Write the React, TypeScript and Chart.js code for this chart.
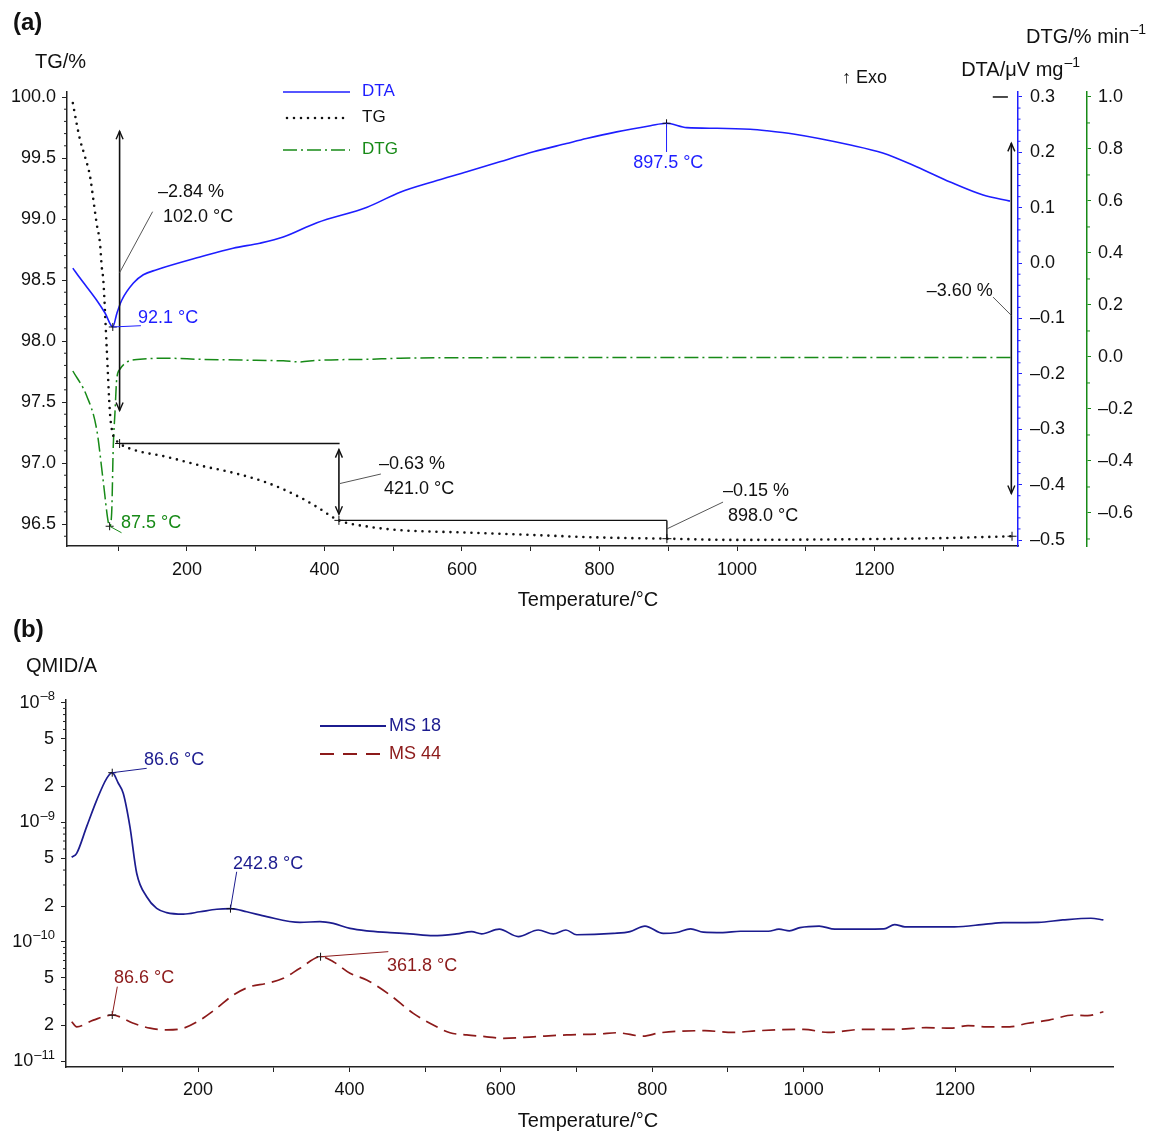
import { useEffect, useRef } from 'react';
import { Chart, registerables } from 'chart.js';

Chart.register(...registerables);

const FONT = '"Liberation Sans", Arial, Helvetica, sans-serif';
const EN = '\u2013';
const BLUE = '#1e1eff';
const GREEN = '#178a17';
const NAVY = '#1c1c8f';
const DARKRED = '#8c1a1a';
const INK = '#111111';
const AXIS = '#222222';
const LEADER = '#555555';

// ---------- shared temperature axis ----------
const tempMin = 25.5;
const tempMax = 1408.7;
const tempTicks = [100, 200, 300, 400, 500, 600, 700, 800, 900, 1000, 1100, 1200, 1300];
const tempLabels = [200, 400, 600, 800, 1000, 1200];

// ---------- panel (a): TG / DTA / DTG ----------
const tgTemp = [34, 39.6, 44.4, 51.7, 59, 63.8, 68.7, 73.5, 76, 78.3, 83.2, 88, 92, 95.3, 102, 121.5, 171, 219, 267, 316, 364, 389, 421, 462, 510, 607, 703, 800, 898, 994, 1160, 1300, 1400];
const tgValues = [99.95, 99.78, 99.65, 99.51, 99.35, 99.16, 98.96, 98.8, 98.61, 98.5, 97.95, 97.41, 97.24, 97.2, 97.16, 97.11, 97.05, 96.98, 96.92, 96.84, 96.72, 96.64, 96.53, 96.48, 96.45, 96.43, 96.41, 96.39, 96.38, 96.37, 96.375, 96.385, 96.4];

const dtaTemp = [34, 44.4, 68.7, 80.8, 92.1, 98.2, 105.1, 122.1, 136.5, 156, 219, 267, 306, 340, 389, 462, 510, 558, 607, 655, 704, 752, 781, 825, 874, 897.5, 927, 971, 1019, 1043, 1082, 1165, 1212, 1262, 1310, 1358, 1397];
const dtaValues = [-0.009, -0.027, -0.067, -0.09, -0.115, -0.09, -0.067, -0.036, -0.021, -0.012, 0.011, 0.027, 0.036, 0.047, 0.073, 0.101, 0.128, 0.147, 0.165, 0.183, 0.201, 0.216, 0.225, 0.237, 0.248, 0.2525, 0.2446, 0.2435, 0.2417, 0.2391, 0.2332, 0.2133, 0.1989, 0.1736, 0.1465, 0.123, 0.112];

const dtgTemp = [34, 54.2, 68.7, 77.9, 85.6, 87.5, 90.5, 92.8, 95.3, 97.8, 102.6, 112.3, 131.7, 171, 219, 280, 340, 364, 389, 462, 510, 600, 800, 1000, 1200, 1400];
const dtgValues = [-0.054, -0.15, -0.279, -0.471, -0.637, -0.651, -0.598, -0.343, -0.213, -0.086, -0.047, -0.02, -0.009, -0.005, -0.009, -0.012, -0.015, -0.019, -0.013, -0.009, -0.005, -0.003, -0.002, -0.002, -0.002, -0.002];

const tgTicks = [96.5, 97.0, 97.5, 98.0, 98.5, 99.0, 99.5, 100.0];
const dtaTicks = [-0.5, -0.4, -0.3, -0.2, -0.1, 0, 0.1, 0.2, 0.3];
const dtgTicks = [-0.6, -0.4, -0.2, 0, 0.2, 0.4, 0.6, 0.8, 1.0];

// mass-loss steps
const stepTemps = [102.0, 421.0, 898.0];
const stepLoss = ['2.84', '0.63', '0.15'];
const stepTG = [97.16, 96.53, 96.38];
const totalLoss = '3.60';
const endTemp = 1400;
const endTG = 96.4;
const dtaMin = [92.1, -0.1153];
const dtaPeak = [897.5, 0.2525];
const dtgMin = [87.5, -0.651];

// ---------- panel (b): MS ----------
const ms18Temp = [33.0, 39.6, 52.8, 66.1, 79.3, 86.6, 94.6, 101.2, 110.0, 118.9, 132.1, 145.3, 158.5, 180.5, 202.5, 224.6, 242.8, 264.2, 290.6, 334.6, 361.0, 378.6, 400.7, 422.7, 453.5, 479.9, 510.7, 541.6, 561.4, 574.6, 597.9, 623.0, 649.4, 669.2, 686.0, 700.1, 748.5, 770.5, 790.4, 814.5, 832.2, 850.7, 867.4, 893.2, 916.4, 953.4, 967.4, 981.2, 995.1, 1020.6, 1041.3, 1106.1, 1120.2, 1133.8, 1199.1, 1240.8, 1263.9, 1310.3, 1342.5, 1379.5, 1396.0];
const ms18Values = [5.12e-10, 5.52e-10, 9.23e-10, 1.54e-9, 2.34e-9, 2.61e-9, 2.13e-9, 1.75e-9, 9.2e-10, 3.76e-10, 2.39e-10, 1.91e-10, 1.76e-10, 1.71e-10, 1.79e-10, 1.88e-10, 1.9e-10, 1.79e-10, 1.63e-10, 1.46e-10, 1.48e-10, 1.43e-10, 1.3e-10, 1.24e-10, 1.2e-10, 1.17e-10, 1.13e-10, 1.17e-10, 1.22e-10, 1.17e-10, 1.28e-10, 1.11e-10, 1.26e-10, 1.17e-10, 1.26e-10, 1.15e-10, 1.18e-10, 1.22e-10, 1.36e-10, 1.18e-10, 1.2e-10, 1.29e-10, 1.21e-10, 1.2e-10, 1.23e-10, 1.23e-10, 1.28e-10, 1.24e-10, 1.32e-10, 1.36e-10, 1.28e-10, 1.29e-10, 1.4e-10, 1.34e-10, 1.34e-10, 1.41e-10, 1.45e-10, 1.46e-10, 1.53e-10, 1.58e-10, 1.53e-10];

const ms44Temp = [33.0, 39.6, 61.6, 86.6, 114.4, 136.5, 158.5, 180.5, 202.5, 224.6, 246.5, 268.6, 290.6, 312.6, 334.6, 361.8, 378.6, 400.7, 422.7, 453.5, 484.3, 510.7, 532.8, 554.8, 581.3, 603.2, 642.8, 686.9, 730.9, 753.0, 788.1, 810.2, 869.6, 906.6, 939.6, 999.8, 1032.1, 1078.4, 1124.7, 1161.7, 1194.7, 1217.2, 1241.0, 1272.2, 1296.3, 1324.0, 1356.7, 1375.2, 1396.0];
const ms44Values = [2.15e-11, 1.95e-11, 2.22e-11, 2.45e-11, 2.09e-11, 1.9e-11, 1.84e-11, 1.9e-11, 2.22e-11, 2.79e-11, 3.6e-11, 4.23e-11, 4.51e-11, 4.97e-11, 6.02e-11, 7.53e-11, 6.84e-11, 5.47e-11, 4.81e-11, 3.6e-11, 2.53e-11, 2.02e-11, 1.74e-11, 1.67e-11, 1.61e-11, 1.56e-11, 1.61e-11, 1.67e-11, 1.7e-11, 1.74e-11, 1.63e-11, 1.74e-11, 1.81e-11, 1.75e-11, 1.81e-11, 1.86e-11, 1.75e-11, 1.86e-11, 1.86e-11, 1.92e-11, 1.9e-11, 2.0e-11, 1.95e-11, 1.95e-11, 2.09e-11, 2.22e-11, 2.45e-11, 2.42e-11, 2.61e-11];

const qmidTicks = [1e-11, 2e-11, 5e-11, 1e-10, 2e-10, 5e-10, 1e-9, 2e-9, 5e-9, 1e-8];
const qmidDecades = [-11, -10, -9, -8];
const ms18Peaks = [[86.6, 2.61e-9], [242.8, 1.9e-10]];
const ms44Peaks = [[86.6, 2.45e-11], [361.8, 7.53e-11]];

// ---------- helpers ----------
const zip = (xs: number[], ys: number[]) => xs.map((x, i) => ({ x, y: ys[i] }));
const fmt1 = (v: number) => (v < -1e-9 ? EN : '') + Math.abs(v).toFixed(1);

function text(ctx: any, s: string, x: number, y: number, color = INK, align = 'left', size = 18, bold = false) {
  ctx.save();
  ctx.font = `${bold ? 'bold ' : ''}${size}px ${FONT}`;
  ctx.fillStyle = color;
  ctx.textAlign = align;
  ctx.textBaseline = 'middle';
  ctx.fillText(s, x, y);
  ctx.restore();
}

function supLabel(ctx: any, base: string, sup: string, x: number, y: number, align: string, size: number, supSize: number, color = INK) {
  ctx.save();
  ctx.font = `${size}px ${FONT}`;
  const wb = ctx.measureText(base).width;
  ctx.font = `${supSize}px ${FONT}`;
  const ws = ctx.measureText(sup).width;
  const left = align === 'right' ? x - wb - ws - 1 : x;
  ctx.fillStyle = color;
  ctx.textBaseline = 'middle';
  ctx.textAlign = 'left';
  ctx.font = `${size}px ${FONT}`;
  ctx.fillText(base, left, y);
  ctx.font = `${supSize}px ${FONT}`;
  ctx.fillText(sup, left + wb + 1, y - size * 0.36);
  ctx.restore();
}

function seg(ctx: any, x1: number, y1: number, x2: number, y2: number, color = INK, width = 1, dash: number[] = []) {
  ctx.save();
  ctx.strokeStyle = color;
  ctx.lineWidth = width;
  ctx.setLineDash(dash);
  ctx.beginPath();
  ctx.moveTo(x1, y1);
  ctx.lineTo(x2, y2);
  ctx.stroke();
  ctx.restore();
}

function arrowHead(ctx: any, x: number, y: number, dir: number) {
  // dir = -1: pointing up, +1: pointing down
  ctx.save();
  ctx.strokeStyle = INK;
  ctx.lineWidth = 1.4;
  ctx.beginPath();
  ctx.moveTo(x - 3.5, y - dir * 8);
  ctx.lineTo(x, y);
  ctx.lineTo(x + 3.5, y - dir * 8);
  ctx.stroke();
  ctx.restore();
}

function dblArrow(ctx: any, x: number, yTop: number, yBot: number) {
  seg(ctx, x, yTop, x, yBot, INK, 1.6);
  arrowHead(ctx, x, yTop, -1);
  arrowHead(ctx, x, yBot, 1);
}

function cross(ctx: any, x: number, y: number, color = INK, s = 4.5) {
  seg(ctx, x - s, y, x + s, y, color, 1);
  seg(ctx, x, y - s, x, y + s, color, 1);
}

function minorTicks(ctx: any, scale: any, values: number[], len: number, color: string, side: string) {
  for (const v of values) {
    const p = scale.getPixelForValue(v);
    if (side === 'left') seg(ctx, scale.right, p, scale.right - len, p, color, 1);
    else if (side === 'right') seg(ctx, scale.left, p, scale.left + len, p, color, 1);
    else seg(ctx, p, scale.top, p, scale.top + len, color, 1);
  }
}

function range(from: number, to: number, step: number, skipEvery: number) {
  const out: number[] = [];
  const n = Math.round((to - from) / step);
  for (let i = 0; i <= n; i++) {
    if (skipEvery > 0 && Math.round(from / step + i) % skipEvery === 0) continue;
    out.push(+(from + i * step).toFixed(4));
  }
  return out;
}

const tickFont = { family: FONT, size: 18 };

function xScale(height: number, padding: number) {
  return {
    type: 'linear',
    position: 'bottom',
    min: tempMin,
    max: tempMax,
    afterBuildTicks: (s: any) => { s.ticks = tempTicks.map((value) => ({ value })); },
    afterFit: (s: any) => { s.height = height; },
    ticks: {
      autoSkip: false,
      maxRotation: 0,
      padding,
      color: INK,
      font: tickFont,
      callback: (v: number) => (tempLabels.includes(v) ? String(v) : ''),
    },
    grid: { drawOnChartArea: false, drawTicks: true, tickLength: 5, color: AXIS },
    border: { display: true, color: AXIS, width: 1.5 },
  };
}

// ---------- panel (a) config ----------
function configA(): any {
  const plugin = {
    id: 'panelA',
    afterDraw(chart: any) {
      const { ctx, scales } = chart;
      const X = (t: number) => scales.x.getPixelForValue(t);
      const Y = (v: number) => scales.yTG.getPixelForValue(v);
      const YA = (v: number) => scales.yDTA.getPixelForValue(v);
      const YG = (v: number) => scales.yDTG.getPixelForValue(v);

      minorTicks(ctx, scales.yTG, range(96.4, 100.0, 0.1, 5), 3, AXIS, 'left');
      minorTicks(ctx, scales.yDTA, range(-0.5, 0.3, 0.02, 5), 2.5, BLUE, 'right');
      minorTicks(ctx, scales.yDTG, range(-0.7, 1.0, 0.1, 2), 3, GREEN, 'right');

      // titles
      text(ctx, '(a)', 13, 23, INK, 'left', 24, true);
      text(ctx, 'TG/%', 35, 62, INK, 'left', 20);
      supLabel(ctx, 'DTG/% min', EN + '1', 1146, 37, 'right', 20, 14);
      supLabel(ctx, 'DTA/\u03bcV mg', EN + '1', 1080, 70, 'right', 20, 14);
      text(ctx, '\u2191 Exo', 842, 78, INK, 'left', 18);
      seg(ctx, X(1372), YA(0.3), X(1394), YA(0.3), INK, 1.5);
      text(ctx, 'Temperature/\u00b0C', 588, 600, INK, 'center', 20);

      // legend
      seg(ctx, 283, 92, 350, 92, BLUE, 1.6);
      text(ctx, 'DTA', 362, 91, BLUE, 'left', 17);
      ctx.save();
      ctx.strokeStyle = INK; ctx.lineWidth = 2.6; ctx.lineCap = 'round'; ctx.setLineDash([0, 7]);
      ctx.beginPath(); ctx.moveTo(287, 118); ctx.lineTo(350, 118); ctx.stroke();
      ctx.restore();
      text(ctx, 'TG', 362, 117, INK, 'left', 17);
      seg(ctx, 283, 150, 350, 150, GREEN, 1.5, [14, 4, 2, 4]);
      text(ctx, 'DTG', 362, 149, GREEN, 'left', 17);

      // step 1
      dblArrow(ctx, X(stepTemps[0]), Y(99.72), Y(97.43));
      seg(ctx, X(stepTemps[0]), Y(98.56), X(150), Y(99.06), LEADER, 1);
      text(ctx, EN + stepLoss[0] + ' %', X(157.9), Y(99.22));
      text(ctx, stepTemps[0].toFixed(1) + ' \u00b0C', X(165.1), Y(99.016));
      cross(ctx, X(stepTemps[0]), Y(stepTG[0]));
      seg(ctx, X(stepTemps[0]), Y(stepTG[0]), X(422), Y(stepTG[0]), INK, 1.4);

      // step 2
      dblArrow(ctx, X(stepTemps[1]), Y(97.11), Y(96.58));
      seg(ctx, X(stepTemps[1]), Y(96.83), X(482), Y(96.91), LEADER, 1);
      text(ctx, EN + stepLoss[1] + ' %', X(479.3), Y(96.99));
      text(ctx, stepTemps[1].toFixed(1) + ' \u00b0C', X(486.6), Y(96.787));
      cross(ctx, X(stepTemps[1]), Y(stepTG[1]));
      seg(ctx, X(stepTemps[1]), Y(stepTG[1]), X(stepTemps[2]), Y(stepTG[1]), INK, 1.4);

      // step 3
      seg(ctx, X(stepTemps[2]), Y(stepTG[1]), X(stepTemps[2]), Y(stepTG[2]), INK, 1.4);
      cross(ctx, X(stepTemps[2]), Y(stepTG[2]));
      seg(ctx, X(stepTemps[2]), Y(96.46), X(979.7), Y(96.68), LEADER, 1);
      text(ctx, EN + stepLoss[2] + ' %', X(979.7), Y(96.77));
      text(ctx, stepTemps[2].toFixed(1) + ' \u00b0C', X(987), Y(96.566));

      // total
      dblArrow(ctx, X(1399), Y(99.62), Y(96.75));
      seg(ctx, X(1399), Y(98.21), X(1372.4), Y(98.36), LEADER, 1);
      text(ctx, EN + totalLoss + ' %', X(1372), Y(98.41), INK, 'right');
      cross(ctx, X(endTemp), Y(endTG));

      // DTA minimum
      cross(ctx, X(dtaMin[0]), YA(dtaMin[1]), INK, 4);
      seg(ctx, X(dtaMin[0]), YA(dtaMin[1]), X(133), YA(-0.113), BLUE, 1);
      text(ctx, dtaMin[0].toFixed(1) + ' \u00b0C', X(128.8), YA(-0.099), BLUE);

      // DTG minimum
      cross(ctx, X(dtgMin[0]), YG(dtgMin[1]), INK, 4);
      seg(ctx, X(dtgMin[0]), YG(dtgMin[1]), X(104.8), YG(-0.676), GREEN, 1);
      text(ctx, dtgMin[0].toFixed(1) + ' \u00b0C', X(104), YG(-0.639), GREEN);

      // DTA peak
      cross(ctx, X(dtaPeak[0]), YA(dtaPeak[1]), INK, 4);
      seg(ctx, X(dtaPeak[0]), YA(dtaPeak[1]), X(dtaPeak[0]), YA(0.2007), BLUE, 1);
      text(ctx, dtaPeak[0].toFixed(1) + ' \u00b0C', X(900), YA(0.181), BLUE, 'center');
    },
  };

  return {
    type: 'line',
    data: {
      datasets: [
        { label: 'DTA', data: zip(dtaTemp, dtaValues), yAxisID: 'yDTA', borderColor: BLUE, borderWidth: 1.6, pointRadius: 0, cubicInterpolationMode: 'monotone', fill: false },
        { label: 'TG', data: zip(tgTemp, tgValues), yAxisID: 'yTG', borderColor: INK, borderWidth: 2.6, borderDash: [0, 7], borderCapStyle: 'round', pointRadius: 0, cubicInterpolationMode: 'monotone', fill: false },
        { label: 'DTG', data: zip(dtgTemp, dtgValues), yAxisID: 'yDTG', borderColor: GREEN, borderWidth: 1.5, borderDash: [14, 4, 2, 4], pointRadius: 0, cubicInterpolationMode: 'monotone', fill: false },
      ],
    },
    options: {
      responsive: false,
      maintainAspectRatio: false,
      animation: false,
      devicePixelRatio: 1,
      events: [],
      layout: { padding: { top: 92, left: 0, right: 0, bottom: 0 } },
      plugins: { legend: { display: false }, tooltip: { enabled: false } },
      scales: {
        x: xScale(69, 8),
        yTG: {
          type: 'linear', position: 'left', min: 96.32, max: 100.041,
          afterBuildTicks: (s: any) => { s.ticks = tgTicks.map((value) => ({ value })); },
          afterFit: (s: any) => { s.width = 67; },
          ticks: { padding: 6, color: INK, font: tickFont, callback: (v: number) => fmt1(v) },
          grid: { drawOnChartArea: false, tickLength: 5, color: AXIS },
          border: { display: true, color: AXIS, width: 1.5 },
        },
        yDTA: {
          type: 'linear', position: 'right', min: -0.5108, max: 0.309,
          afterBuildTicks: (s: any) => { s.ticks = dtaTicks.map((value) => ({ value })); },
          afterFit: (s: any) => { s.width = 69; },
          ticks: { padding: 8, color: INK, font: tickFont, callback: (v: number) => fmt1(v) },
          grid: { drawOnChartArea: false, tickLength: 4, color: BLUE },
          border: { display: true, color: BLUE, width: 1.5 },
        },
        yDTG: {
          type: 'linear', position: 'right', min: -0.727, max: 1.019,
          afterBuildTicks: (s: any) => { s.ticks = dtgTicks.map((value) => ({ value })); },
          afterFit: (s: any) => { s.width = 64; },
          ticks: { padding: 7, color: INK, font: tickFont, callback: (v: number) => fmt1(v) },
          grid: { drawOnChartArea: false, tickLength: 4, color: GREEN },
          border: { display: true, color: GREEN, width: 1.5 },
        },
      },
    },
    plugins: [plugin],
  };
}

// ---------- panel (b) config ----------
function configB(): any {
  const plugin = {
    id: 'panelB',
    afterDraw(chart: any) {
      const { ctx, scales } = chart;
      const X = (t: number) => scales.x.getPixelForValue(t);
      const Y = (v: number) => scales.y.getPixelForValue(v);

      const minor: number[] = [];
      for (const d of [-11, -10, -9]) for (const m of [3, 4, 6, 7, 8, 9]) minor.push(m * Math.pow(10, d));
      minorTicks(ctx, scales.y, minor, 3, AXIS, 'left');

      for (const d of qmidDecades) {
        supLabel(ctx, '10', EN + String(-d), scales.y.right - 11, Y(Math.pow(10, d)), 'right', 18, 13);
      }

      text(ctx, '(b)', 13, 15, INK, 'left', 24, true);
      text(ctx, 'QMID/A', 26, 51, INK, 'left', 20);
      text(ctx, 'Temperature/\u00b0C', 588, 506, INK, 'center', 20);

      // legend
      seg(ctx, 320, 111, 386, 111, NAVY, 1.8);
      text(ctx, 'MS 18', 389, 111, NAVY, 'left', 18);
      seg(ctx, 320, 139, 383, 139, DARKRED, 1.8, [14, 9]);
      text(ctx, 'MS 44', 389, 139, DARKRED, 'left', 18);

      // MS 18 peaks
      cross(ctx, X(ms18Peaks[0][0]), Y(ms18Peaks[0][1]), INK, 4);
      seg(ctx, X(ms18Peaks[0][0]), Y(ms18Peaks[0][1]), X(132.1), Y(2.84e-9), NAVY, 1);
      text(ctx, ms18Peaks[0][0].toFixed(1) + ' \u00b0C', X(128.5), Y(3.33e-9), NAVY);
      cross(ctx, X(ms18Peaks[1][0]), Y(ms18Peaks[1][1]), INK, 4);
      seg(ctx, X(ms18Peaks[1][0]), Y(ms18Peaks[1][1]), X(251), Y(3.87e-10), NAVY, 1);
      text(ctx, ms18Peaks[1][0].toFixed(1) + ' \u00b0C', X(246.1), Y(4.5e-10), NAVY);

      // MS 44 peaks
      cross(ctx, X(ms44Peaks[0][0]), Y(ms44Peaks[0][1]), INK, 4);
      seg(ctx, X(ms44Peaks[0][0]), Y(ms44Peaks[0][1]), X(93.3), Y(4.23e-11), DARKRED, 1);
      text(ctx, ms44Peaks[0][0].toFixed(1) + ' \u00b0C', X(88.9), Y(5.0e-11), DARKRED);
      cross(ctx, X(ms44Peaks[1][0]), Y(ms44Peaks[1][1]), INK, 4);
      seg(ctx, X(ms44Peaks[1][0]), Y(ms44Peaks[1][1]), X(451.3), Y(8.3e-11), DARKRED, 1);
      text(ctx, ms44Peaks[1][0].toFixed(1) + ' \u00b0C', X(449.5), Y(6.3e-11), DARKRED);
    },
  };

  return {
    type: 'line',
    data: {
      datasets: [
        { label: 'MS 18', data: zip(ms18Temp, ms18Values), borderColor: NAVY, borderWidth: 1.7, pointRadius: 0, cubicInterpolationMode: 'monotone', fill: false },
        { label: 'MS 44', data: zip(ms44Temp, ms44Values), borderColor: DARKRED, borderWidth: 1.7, borderDash: [13, 7], pointRadius: 0, cubicInterpolationMode: 'monotone', fill: false },
      ],
    },
    options: {
      responsive: false,
      maintainAspectRatio: false,
      animation: false,
      devicePixelRatio: 1,
      events: [],
      layout: { padding: { top: 85, left: 0, right: 38, bottom: 0 } },
      plugins: { legend: { display: false }, tooltip: { enabled: false } },
      scales: {
        x: xScale(66, 7),
        y: {
          type: 'logarithmic', position: 'left', min: Math.pow(10, -11.046), max: Math.pow(10, -7.975),
          afterBuildTicks: (s: any) => { s.ticks = qmidTicks.map((value) => ({ value })); },
          afterFit: (s: any) => { s.width = 66; },
          ticks: {
            padding: 7, color: INK, font: tickFont, autoSkip: false,
            callback: (v: number) => {
              const d = Math.floor(Math.log10(v) + 1e-9);
              const m = Math.round(v / Math.pow(10, d));
              return m === 1 || m === 10 ? '' : String(m);
            },
          },
          grid: { drawOnChartArea: false, tickLength: 5, color: AXIS },
          border: { display: true, color: AXIS, width: 1.5 },
        },
      },
    },
    plugins: [plugin],
  };
}

export default function App() {
  const refA = useRef<HTMLCanvasElement>(null);
  const refB = useRef<HTMLCanvasElement>(null);
  useEffect(() => {
    const a = new Chart(refA.current as HTMLCanvasElement, configA());
    const b = new Chart(refB.current as HTMLCanvasElement, configB());
    return () => {
      a.destroy();
      b.destroy();
    };
  }, []);
  return (
    <div style={{ position: 'absolute', left: 0, top: 0, width: 1151, height: 1133, background: '#fff', overflow: 'hidden' }}>
      <canvas ref={refA} width={1151} height={615} style={{ position: 'absolute', left: 0, top: 0, width: 1151, height: 615 }} />
      <canvas ref={refB} width={1151} height={518} style={{ position: 'absolute', left: 0, top: 615, width: 1151, height: 518 }} />
    </div>
  );
}
